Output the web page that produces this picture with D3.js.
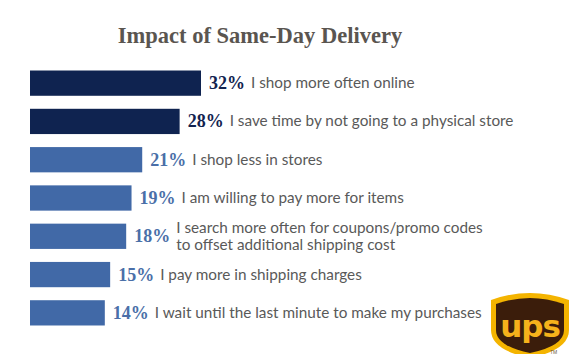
<!DOCTYPE html>
<html>
<head>
<meta charset="utf-8">
<script src="https://cdn.jsdelivr.net/npm/d3@7"></script>
<style>
  body { margin: 0; background: #fff; }
  svg { display: block; }
</style>
</head>
<body>
<svg id="chart" width="570" height="354"></svg>
<script>
// chart values
const pcts = [32, 28, 21, 19, 18, 15, 14];
const labels = [
  ['I shop more often online'],
  ['I save time by not going to a physical store'],
  ['I shop less in stores'],
  ['I am willing to pay more for items'],
  ['I search more often for coupons/promo codes', 'to offset additional shipping cost'],
  ['I pay more in shipping charges'],
  ['I wait until the last minute to make my purchases']
];
const highlight = [true, true, false, false, false, false, false];

const svg = d3.select('#chart');

svg.append('text')
  .attr('x', 260).attr('y', 43)
  .attr('text-anchor', 'middle')
  .style('font-family', '"Liberation Serif", serif')
  .style('font-weight', 'bold')
  .style('font-size', '22.5px')
  .style('fill', '#5a5550')
  .text('Impact of Same-Day Delivery');

const x = d3.scaleLinear().domain([0, 32]).range([30, 201]);
const y = d3.scaleBand().domain(d3.range(pcts.length)).range([64, 332]).paddingInner(0.34).paddingOuter(0.17);

const rows = svg.selectAll('g.row')
  .data(pcts)
  .enter()
  .append('g')
  .attr('class', 'row');

rows.append('rect')
  .attr('x', x(0))
  .attr('y', (d, i) => y(i))
  .attr('width', d => x(d) - x(0))
  .attr('height', y.bandwidth())
  .style('fill', (d, i) => highlight[i] ? '#0f2350' : '#4169a7');

rows.append('text')
  .attr('class', 'pct')
  .attr('x', d => x(d) + 8)
  .attr('y', (d, i) => y(i) + y.bandwidth() / 2 + 6)
  .style('font-family', '"Liberation Serif", serif')
  .style('font-weight', 'bold')
  .style('font-size', '18px')
  .style('fill', (d, i) => highlight[i] ? '#12234f' : '#4a6fa8')
  .text(d => d + '%');

rows.append('text')
  .attr('class', 'lbl')
  .attr('x', d => x(d) + 50)
  .attr('y', (d, i) => y(i) + y.bandwidth() / 2 + 5 - (labels[i].length - 1) * 8.5)
  .style('font-family', 'Lato, sans-serif')
  .style('font-size', '15.3px')
  .style('fill', '#595959')
  .selectAll('tspan')
  .data((d, i) => labels[i])
  .enter()
  .append('tspan')
  .attr('x', function() { return this.parentNode.getAttribute('x'); })
  .attr('dy', (d, j) => j ? 17 : 0)
  .text(d => d);

// UPS logo
const logo = svg.append('g').attr('transform', 'translate(490,292)');
logo.append('path')
  .attr('d', 'M1,8 Q40,-6 79,8 L79,38 Q79,58 40,66 Q1,58 1,38 Z')
  .style('fill', '#f4b400');
logo.append('path')
  .attr('d', 'M6,12 Q40,0 74,12 L74,38 Q74,54 40,61 Q6,54 6,38 Z')
  .style('fill', '#3b1d0b');
logo.append('text')
  .attr('x', 40).attr('y', 45)
  .attr('text-anchor', 'middle')
  .style('font-family', '"DejaVu Sans", sans-serif')
  .style('font-weight', 'bold')
  .style('font-size', '31px')
  .style('letter-spacing', '-1px')
  .style('fill', '#f6b21b')
  .text('ups');
logo.append('text')
  .attr('x', 60).attr('y', 62)
  .style('font-family', 'sans-serif')
  .style('font-size', '5px')
  .style('fill', '#6a5a40')
  .text('TM');
</script>
</body>
</html>
